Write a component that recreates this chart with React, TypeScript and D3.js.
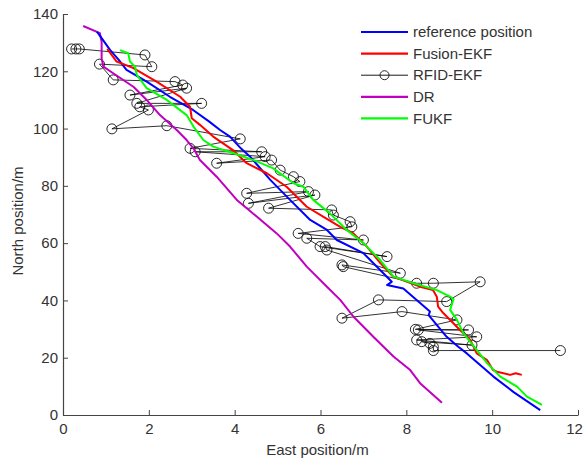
import React, { useEffect, useRef } from 'react'
import * as d3 from 'd3'

////////////////////
//// Data  (east position / m, north position / m)

const referencePath = [
    [0.79, 133.8], [0.9, 131.6], [1.1, 127.4], [1.3, 124.0], [1.48, 120.5], [1.95, 116.4],
    [2.49, 111.1], [3.03, 106.5], [3.4, 102.5], [3.66, 99.5], [3.89, 97.2], [4.15, 93.0],
    [4.36, 90.2], [4.83, 82.1], [5.29, 75.1], [5.76, 68.1], [6.15, 64.6], [6.38, 61.1],
    [7.0, 56.5], [7.43, 50.0], [7.66, 46.5], [7.55, 45.4], [7.93, 44.2], [8.55, 36.1],
    [8.52, 34.9], [8.94, 27.3], [9.21, 23.8], [9.41, 21.5], [10.03, 13.4], [10.5, 8.0],
    [11.12, 1.7]
]

const fusionEkf = [
    [1.03, 127.8], [1.25, 123.4], [1.63, 121.2], [2.18, 116.4], [2.73, 111.1], [2.96, 107.6],
    [3.0, 103.6], [3.19, 101.3], [3.5, 97.2], [3.96, 92.5], [4.28, 87.9], [4.75, 84.4],
    [5.21, 79.7], [5.68, 72.7], [6.07, 69.2], [6.46, 65.7], [6.76, 63.5], [7.08, 58.8],
    [7.39, 53.1], [7.69, 48.3], [8.32, 44.8], [8.62, 43.6], [8.71, 41.3], [8.74, 37.8],
    [8.86, 35.6], [9.09, 32.1], [9.25, 29.7], [9.49, 26.2], [9.64, 21.5], [9.88, 19.2],
    [10.02, 15.7], [10.11, 15.1], [10.42, 14.0], [10.55, 14.6], [10.69, 14.0]
]

const rfidEkf = [
    [0.2, 127.8], [0.3, 127.8], [0.38, 127.8], [1.91, 125.7], [2.07, 121.6], [0.85, 122.5],
    [1.17, 117.0], [2.61, 116.4], [2.79, 115.2], [1.56, 111.7], [2.88, 114.1], [1.72, 108.8],
    [3.23, 108.8], [1.79, 107.6], [1.99, 106.5], [1.14, 99.9], [2.42, 101.0], [4.13, 96.4],
    [2.96, 93.1], [4.63, 91.9], [3.08, 91.9], [4.71, 90.2], [3.58, 87.9], [4.86, 89.0],
    [5.06, 85.5], [5.37, 83.2], [5.52, 81.5], [4.28, 77.4], [5.72, 78.0], [4.32, 73.9],
    [5.87, 76.8], [4.79, 72.2], [6.26, 71.6], [6.3, 69.8], [6.69, 67.5], [6.73, 65.7],
    [5.48, 63.4], [7.0, 61.1], [5.68, 61.7], [5.99, 58.8], [7.55, 55.3], [6.11, 58.8],
    [6.15, 57.6], [7.86, 49.5], [6.5, 52.4], [6.53, 51.8], [8.24, 46.0], [8.63, 46.0],
    [9.72, 46.5], [8.94, 39.6], [7.35, 40.2], [6.5, 33.8], [7.9, 36.1], [9.18, 33.2],
    [8.21, 29.9], [9.45, 29.7], [8.28, 29.7], [9.64, 27.3], [8.24, 26.2], [9.53, 24.4],
    [8.36, 25.6], [8.55, 25.0], [8.63, 23.8], [8.63, 22.5], [11.59, 22.5]
]

const deadReckoning = [
    [0.47, 135.8], [0.86, 133.3], [0.9, 130.3], [0.9, 124.5], [0.94, 121.6], [1.17, 119.3],
    [1.64, 114.6], [1.95, 110.0], [2.26, 104.7], [2.65, 99.5], [2.88, 96.0], [3.04, 93.1],
    [3.19, 89.0], [3.58, 83.2], [4.05, 75.1], [4.52, 69.2], [4.98, 63.4], [5.29, 58.8],
    [5.68, 51.8], [6.15, 44.8], [6.46, 40.2], [6.77, 34.3], [7.23, 27.3], [7.7, 20.4],
    [8.09, 15.7], [8.32, 11.1], [8.83, 4.3]
]

const fukf = [
    [1.33, 127.4], [1.52, 126.3], [1.56, 123.4], [1.68, 121.6], [1.72, 118.7], [1.95, 114.1],
    [2.42, 110.0], [2.88, 104.7], [3.04, 100.7], [3.27, 96.0], [3.5, 93.7], [3.97, 91.4],
    [4.44, 89.0], [4.9, 86.1], [5.37, 80.9], [5.6, 79.7], [5.83, 75.1], [6.22, 70.4],
    [6.61, 64.6], [7.0, 60.0], [7.39, 54.1], [7.7, 48.3], [8.17, 46.0], [8.71, 43.6],
    [9.02, 41.3], [9.1, 40.5], [9.02, 36.7], [9.18, 33.2], [9.33, 28.5], [9.64, 22.7],
    [9.88, 18.1], [10.19, 13.4], [10.58, 9.9], [10.81, 6.4], [11.16, 3.5]
]

const seriesNames = ['reference position', 'Fusion-EKF', 'RFID-EKF', 'DR', 'FUKF']
const xTicks = [0, 2, 4, 6, 8, 10, 12]
const yTicks = [0, 20, 40, 60, 80, 100, 120, 140]

export default function App() {
    const svgRef = useRef(null)

    const width = 583
    const height = 460
    const margin = { top: 14, right: 5, bottom: 45, left: 63 }

    useEffect(() => {
        const svg = d3.select(svgRef.current)
        svg.selectAll('*').remove()

        const x = d3.scaleLinear([0, 12], [margin.left, width - margin.right])
        const y = d3.scaleLinear([0, 140], [height - margin.bottom, margin.top])

        const series = [
            { name: seriesNames[0], data: referencePath, color: '#0000ff', w: 2, marker: false },
            { name: seriesNames[1], data: fusionEkf, color: '#ff0000', w: 2, marker: false },
            { name: seriesNames[2], data: rfidEkf, color: '#000000', w: 0.8, marker: true },
            { name: seriesNames[3], data: deadReckoning, color: '#bf00bf', w: 2, marker: false },
            { name: seriesNames[4], data: fukf, color: '#00ff00', w: 2, marker: false },
        ]

        svg.attr('font-family', 'Arial, "Liberation Sans", sans-serif')

        // axes, ticks pointing inward like matlab
        const xAxis = svg.append('g')
            .attr('transform', `translate(0,${ height - margin.bottom })`)
            .call(d3.axisBottom(x).tickValues(xTicks).tickSizeInner(-5).tickSizeOuter(0).tickPadding(8))
        const yAxis = svg.append('g')
            .attr('transform', `translate(${ margin.left },0)`)
            .call(d3.axisLeft(y).tickValues(yTicks).tickSizeInner(-5).tickSizeOuter(0).tickPadding(5))

        for (const g of [xAxis, yAxis]) {
            g.select('.domain').attr('stroke', '#444').attr('stroke-width', 1.2)
            g.selectAll('.tick line').attr('stroke', '#444')
            g.selectAll('.tick text').attr('fill', '#333').attr('font-size', 15).attr('font-family', 'Arial, "Liberation Sans", sans-serif')
        }
        // last label sits at the page edge, nudge it in
        xAxis.selectAll('.tick text').filter(d => d === 12).attr('dx', -4)

        const line = d3.line().x(d => x(d[0])).y(d => y(d[1]))

        // draw black first so colored lines sit over it
        const order = [2, 3, 0, 1, 4]
        order.forEach(i => {
            const s = series[i]
            svg.append('path')
                .datum(s.data)
                .attr('fill', 'none')
                .attr('stroke', s.color)
                .attr('stroke-width', s.w)
                .attr('stroke-linejoin', 'round')
                .attr('d', line)
            if (s.marker) {
                svg.append('g')
                    .selectAll('circle')
                    .data(s.data)
                    .join('circle')
                    .attr('cx', d => x(d[0]))
                    .attr('cy', d => y(d[1]))
                    .attr('r', 5)
                    .attr('fill', 'none')
                    .attr('stroke', '#111')
                    .attr('stroke-width', 0.9)
            }
        })

        // axis labels
        svg.append('text')
            .attr('x', (margin.left + width - margin.right) / 2 - 3)
            .attr('y', 455)
            .attr('text-anchor', 'middle')
            .attr('font-size', 15)
            .attr('fill', '#333')
            .text('East position/m')

        svg.append('text')
            .attr('transform', `translate(23,${ 221 }) rotate(-90)`)
            .attr('text-anchor', 'middle')
            .attr('font-size', 15)
            .attr('fill', '#333')
            .text('North position/m')

        // legend
        const legend = svg.append('g')
            .selectAll('g')
            .data(series)
            .join('g')
            .attr('transform', (d, i) => `translate(361,${ 32 + i * 21.6 })`)

        legend.append('line')
            .attr('x1', 0).attr('x2', 47)
            .attr('stroke', d => d.color)
            .attr('stroke-width', d => d.marker ? 0.9 : 2.2)
        legend.filter(d => d.marker).append('circle')
            .attr('cx', 23.5).attr('r', 4.5)
            .attr('fill', 'none').attr('stroke', '#111').attr('stroke-width', 0.9)
        legend.append('text')
            .attr('x', 52)
            .attr('dy', '0.35em')
            .attr('font-size', 15)
            .attr('fill', '#333')
            .text(d => d.name)
    }, [])

    return <svg ref={ svgRef } width={ width } height={ height } style={ { position: 'absolute', left: 0, top: 0, background: '#fff' } }/>
}
